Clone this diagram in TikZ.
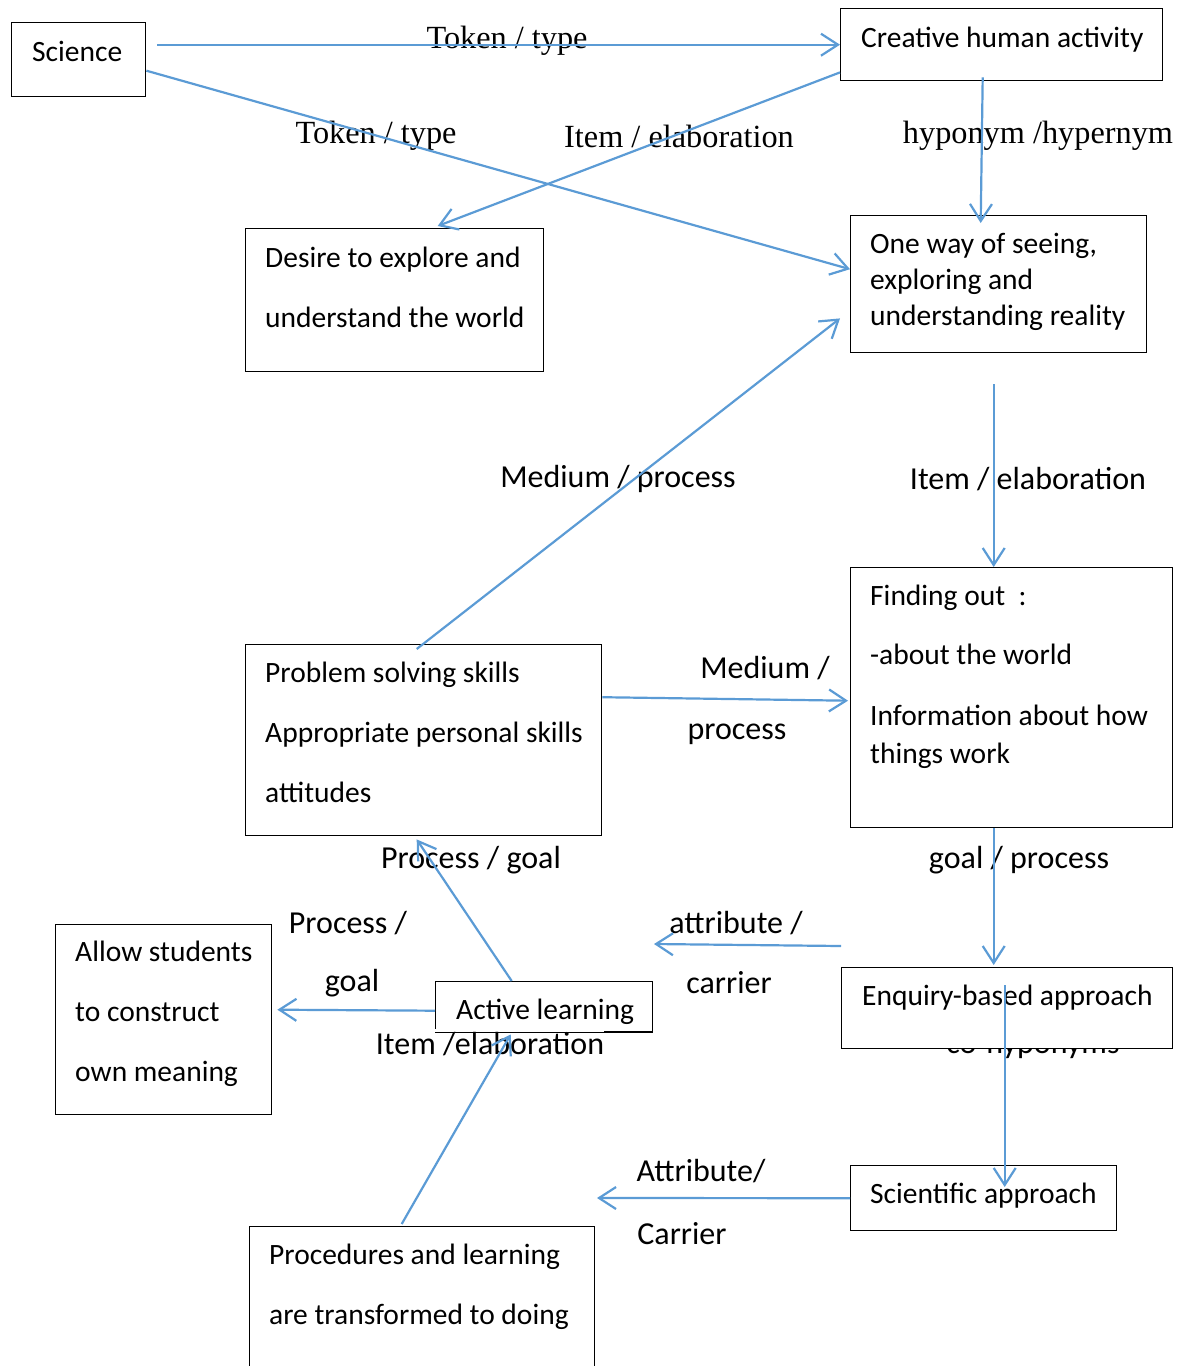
\documentclass[tikz,border=0pt]{standalone}
\usepackage{fontspec}
\setmainfont{Carlito}
\newfontfamily\seriffont{Liberation Serif}
\usetikzlibrary{arrows.meta}
\definecolor{lblue}{RGB}{91,155,213}
\begin{document}
\begin{tikzpicture}[x=1pt,y=-1pt,
  box/.style={draw=black, line width=1.4pt, fill=white, inner sep=0pt, anchor=north west},
  txt/.style={anchor=base west, inner sep=0pt, font=\fontsize{29.5}{35}\selectfont},
  lbl/.style={inner sep=0pt, font=\fontsize{32}{38}\selectfont},
  slbl/.style={inner sep=0pt, font=\seriffont\fontsize{32.3}{38}\selectfont},
  conn/.style={draw=lblue, line width=2.2pt, -{Straight Barb[length=17pt,width=22pt]}},
  plain/.style={draw=lblue, line width=2.2pt}]
\path[use as bounding box] (0,0) rectangle (1179,1366);
\clip (0,0) rectangle (1179,1366);

% hidden label under the enquiry box
\node[lbl] (lcohyp) at (1033,1045) {co-hyponyms};

% boxes
\node[box, minimum width=134pt, minimum height=74pt] (sci) at (11,22) {};
\node[box, minimum width=322pt, minimum height=72pt] (cre) at (840,8) {};
\node[box, minimum width=298pt, minimum height=143pt] (des) at (245,228) {};
\node[box, minimum width=296pt, minimum height=137pt] (one) at (850,215) {};
\node[box, minimum width=322pt, minimum height=260pt] (find) at (850,567) {};
\node[box, minimum width=356pt, minimum height=191pt] (prob) at (245,644) {};
\node[box, minimum width=216pt, minimum height=190pt] (allow) at (55,924) {};
\node[box, minimum width=217pt, minimum height=50pt] (act) at (435,981) {};
\node[box, minimum width=331pt, minimum height=81pt] (enq) at (841,967) {};
\node[box, minimum width=266pt, minimum height=65pt] (scia) at (850,1165) {};
\node[box, minimum width=345pt, minimum height=170pt] (proc) at (249,1226) {};

% box texts
\node[txt] (t1) at (32,61) {Science};
\node[txt] (t2) at (861,47) {Creative human activity};
\node[txt] (t3a) at (265,267) {Desire to explore and};
\node[txt] (t3b) at (265,327) {understand the world};
\node[txt] (t4a) at (870,253) {One way of seeing,};
\node[txt] (t4b) at (870,289) {exploring and};
\node[txt] (t4c) at (870,325) {understanding reality};
\node[txt] (t5a) at (870,605) {Finding out\ \ :};
\node[txt] (t5b) at (870,664) {-about the world};
\node[txt] (t5c) at (870,725) {Information about how};
\node[txt] (t5d) at (870,763) {things work};
\node[txt] (t6a) at (265,682) {Problem solving skills};
\node[txt] (t6b) at (265,742) {Appropriate personal skills};
\node[txt] (t6c) at (265,802) {attitudes};
\node[txt] (t7a) at (75,961) {Allow students};
\node[txt] (t7b) at (75,1021) {to construct};
\node[txt] (t7c) at (75,1081) {own meaning};
\node[txt] (t8) at (456,1019) {Active learning};
\node[txt] (t9) at (862,1005) {Enquiry-based approach};
\node[txt] (t10) at (870,1203) {Scientific approach};
\node[txt] (t11a) at (269,1264) {Procedures and learning};
\node[txt] (t11b) at (269,1324) {are transformed to doing};

% labels
\node[slbl] (l1) at (507,41) {Token / type};
\node[slbl] (l2) at (376,136) {Token / type};
\node[slbl] (l3) at (679,136) {Item / elaboration};
\node[slbl] (l4) at (1038,136) {hyponym /hypernym};
\node[lbl] (l5) at (618,479) {Medium / process};
\node[lbl] (l6) at (1028,479) {Item / elaboration};
\node[lbl] (l7a) at (765,668) {Medium /};
\node[lbl] (l7b) at (737,734) {process};
\node[lbl] (l8) at (1019,860) {goal / process};
\node[lbl] (l9) at (471,860) {Process / goal};
\node[lbl] (l10a) at (736,923) {attribute /};
\node[lbl] (l10b) at (729,983) {carrier};
\node[lbl] (l11a) at (348,923) {Process /};
\node[lbl] (l11b) at (352,983) {goal};
\node[lbl, fill=white, inner ysep=3pt] (l12) at (490,1044) {Item /elaboration};
\draw[line width=1.4pt] (act.south west) -- (act.south east);
\node[lbl] (l13a) at (701,1171) {Attribute/};
\node[lbl] (l13b) at (682,1234) {Carrier};

% free ends
\coordinate (f1) at (654,944);
\coordinate (f2) at (597,1198);

% connectors
\draw[conn, shorten <=11pt] (sci.east |- cre.west) -- (cre.west);
\draw[conn] ([yshift=-11pt]sci.east) -- ([yshift=15pt]one.west);
\draw[conn] ([yshift=9pt]cre.south west) -- ([xshift=43pt,yshift=2pt]des.north);
\draw[conn] ([xshift=-19pt,yshift=4pt]cre.south) -- ([xshift=-18pt,yshift=-8pt]one.north);
\draw[conn] ([xshift=-5pt,yshift=-31pt]one.south) -- ([xshift=-18pt]find.north);
\draw[conn] ([xshift=-7pt,yshift=-5pt]prob.north) -- ([xshift=-10pt,yshift=35pt]one.south west);
\draw[conn] ([yshift=43pt]prob.east) -- ([xshift=-2pt,yshift=-3pt]find.west);
\draw[conn] ([xshift=-18pt]find.south) -- ([xshift=-13.5pt,yshift=2pt]enq.north);
\draw[conn] ([yshift=21pt]enq.north west) -- (f1);
\draw[conn] ([xshift=-32.5pt]act.north) -- ([xshift=-7pt,yshift=-3pt]prob.south);
\draw[conn] ([yshift=-4pt]act.west) -- ([xshift=5pt,yshift=10pt]allow.east);
\draw[conn] ([xshift=-20.5pt,yshift=2pt]proc.north) -- ([xshift=-33.5pt,yshift=-2pt]act.south);
\draw[conn] ([xshift=-2.5pt,yshift=-18pt]enq.north) -- ([xshift=21pt,yshift=-22pt]scia.north);
\draw[conn] (scia.west) -- (f2);
\end{tikzpicture}
\end{document}
